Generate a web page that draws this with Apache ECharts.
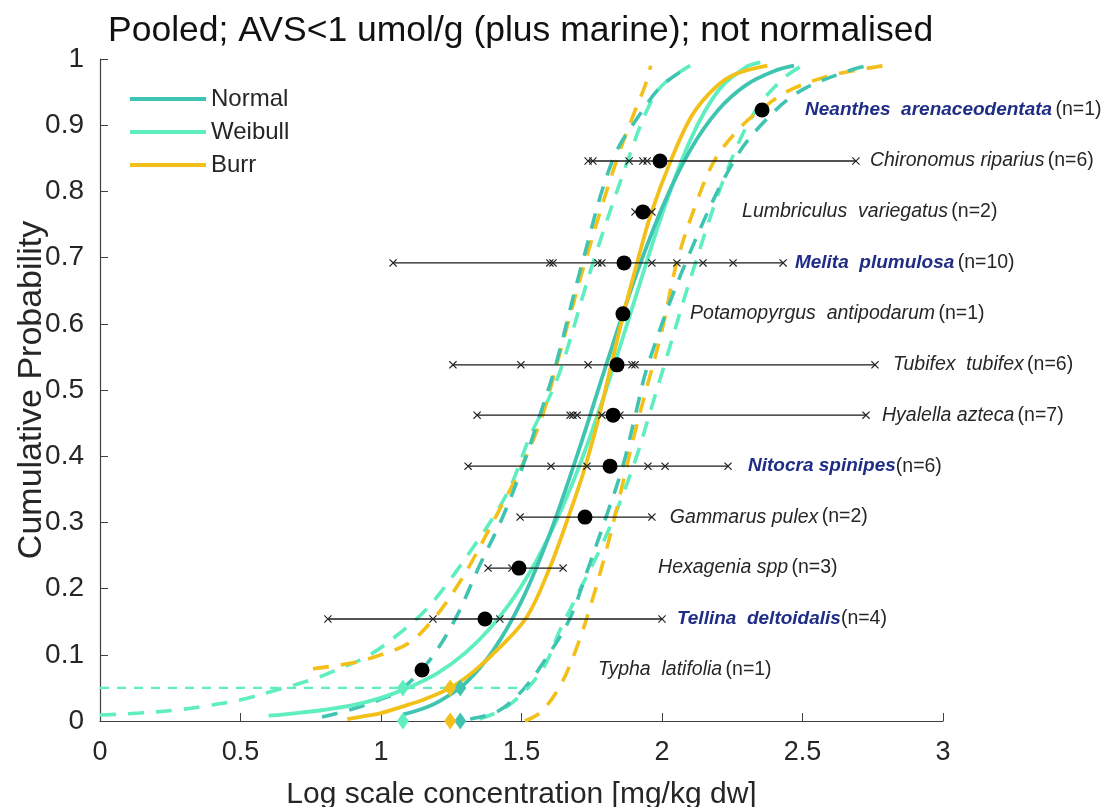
<!DOCTYPE html>
<html>
<head>
<meta charset="utf-8">
<script src="https://cdn.jsdelivr.net/npm/echarts@6/dist/echarts.min.js"></script>
<style>
  html, body { margin: 0; padding: 0; background: #ffffff; }
  #chart { width: 1106px; height: 807px; }
</style>
</head>
<body>
<div id="chart"></div>
<script>
// Species sensitivity data (log10 concentration, mg/kg dw), ordered by rank
const species = [
  'Typha  latifolia', 'Tellina  deltoidalis', 'Hexagenia spp', 'Gammarus pulex',
  'Nitocra spinipes', 'Hyalella azteca', 'Tubifex  tubifex', 'Potamopyrgus  antipodarum',
  'Melita  plumulosa', 'Lumbriculus  variegatus', 'Chironomus riparius', 'Neanthes  arenaceodentata'
];
const marine = [false, true, false, false, true, false, false, false, true, false, false, true];
const countSep = [' ', '', ' ', ' ', '', ' ', ' ', ' ', ' ', ' ', ' ', ' '];
const rankProb = [0.077, 0.154, 0.231, 0.308, 0.385, 0.462, 0.538, 0.615, 0.692, 0.769, 0.846, 0.923];
const speciesMean = [1.146, 1.370, 1.491, 1.726, 1.815, 1.826, 1.840, 1.861, 1.865, 1.932, 1.993, 2.356];
const observations = [
  [1.146],
  [0.811, 1.185, 1.423, 2.000],
  [1.381, 1.466, 1.648],
  [1.495, 1.964],
  [1.310, 1.605, 1.733, 1.950, 2.011, 2.235],
  [1.342, 1.673, 1.683, 1.698, 1.786, 1.850, 2.726],
  [1.256, 1.498, 1.737, 1.893, 1.904, 2.758],
  [1.861],
  [1.043, 1.601, 1.612, 1.772, 1.786, 1.964, 2.053, 2.146, 2.253, 2.431],
  [1.904, 1.964],
  [1.737, 1.754, 1.883, 1.932, 1.947, 2.690],
  [2.356]
];
// where each species name starts (x, log concentration)
const labelX = [1.772, 2.053, 1.986, 2.028, 2.306, 2.783, 2.822, 2.100, 2.473, 2.285, 2.740, 2.509];

// Fitted distributions [x, cumulative probability]
const normalFit = [[1.08,0.010],[1.15,0.019],[1.2,0.028],[1.3,0.057],[1.4,0.107],[1.5,0.181],[1.6,0.282],[1.7,0.404],[1.8,0.536],[1.9,0.664],[2.0,0.775],[2.1,0.862],[2.2,0.923],[2.3,0.961],[2.4,0.982],[2.47,0.990]];
const weibullFit = [[0.6,0.008],[0.7,0.012],[0.8,0.017],[0.9,0.024],[1.0,0.035],[1.1,0.051],[1.2,0.072],[1.3,0.103],[1.4,0.146],[1.5,0.204],[1.6,0.281],[1.7,0.379],[1.8,0.499],[1.9,0.632],[2.0,0.765],[2.1,0.877],[2.2,0.952],[2.3,0.988],[2.35,0.995]];
const burrFit = [[0.88,0.003],[0.95,0.008],[1.0,0.012],[1.07,0.021],[1.15,0.032],[1.246,0.05],[1.33,0.075],[1.42,0.11],[1.52,0.158],[1.60,0.231],[1.66,0.300],[1.72,0.375],[1.77,0.450],[1.815,0.530],[1.86,0.610],[1.91,0.690],[1.96,0.765],[2.03,0.845],[2.107,0.915],[2.19,0.957],[2.26,0.977],[2.375,0.990]];

// Confidence bounds
const normalUpper = [[0.79,0.006],[0.89,0.017],[1.0,0.033],[1.07,0.047],[1.17,0.09],[1.263,0.153],[1.352,0.236],[1.43,0.305],[1.50,0.38],[1.56,0.455],[1.62,0.535],[1.715,0.69],[1.826,0.849],[1.932,0.923],[2.0,0.96],[2.10,0.99]];
const normalLower = [[1.317,0.003],[1.413,0.014],[1.505,0.047],[1.58,0.09],[1.67,0.153],[1.735,0.228],[1.80,0.307],[1.86,0.384],[1.905,0.462],[1.95,0.538],[2.085,0.693],[2.26,0.849],[2.40,0.921],[2.51,0.956],[2.67,0.983],[2.73,0.99]];
const weibullUpper = [[0,0.009],[0.14,0.012],[0.28,0.017],[0.38,0.023],[0.5,0.032],[0.63,0.047],[0.75,0.062],[0.83,0.075],[0.96,0.10],[1.07,0.134],[1.16,0.168],[1.24,0.21],[1.35,0.276],[1.42,0.322],[1.47,0.363],[1.53,0.43],[1.60,0.49],[1.645,0.538],[1.755,0.693],[1.88,0.849],[1.947,0.923],[2.0,0.96],[2.1,0.99]];
const weibullLower = [[1.35,0.003],[1.45,0.022],[1.57,0.075],[1.64,0.14],[1.71,0.20],[1.78,0.26],[1.85,0.33],[1.91,0.40],[1.96,0.47],[2.01,0.54],[2.11,0.68],[2.23,0.83],[2.33,0.92],[2.43,0.97],[2.52,0.995]];
const burrUpper = [[0.758,0.079],[0.9,0.088],[1.0,0.100],[1.1,0.118],[1.185,0.153],[1.25,0.19],[1.317,0.236],[1.41,0.31],[1.5,0.384],[1.575,0.462],[1.625,0.538],[1.726,0.693],[1.84,0.849],[1.905,0.923],[1.94,0.96],[1.96,0.99]];
const burrLower = [[1.512,0.0],[1.57,0.014],[1.64,0.055],[1.70,0.115],[1.75,0.18],[1.80,0.255],[1.85,0.34],[1.90,0.43],[1.95,0.51],[2.00,0.59],[2.053,0.693],[2.12,0.78],[2.19,0.849],[2.28,0.897],[2.356,0.925],[2.45,0.952],[2.6,0.975],[2.79,0.99]];

// HC5 estimates (5th percentile) per fit: Normal, Weibull, Burr
const hc5Level = 0.05;
const hc5Line = [[0, 0.05], [1.53, 0.05]];
const hc5 = { Normal: 1.282, Weibull: 1.078, Burr: 1.246 };

const COLORS = { Normal: '#40c4b2', Weibull: '#5eeebf', Burr: '#f2c018' };
const TEXT = '#262626';
const NAVY = '#1f2d86';
const FONT = '"Liberation Sans", Arial, Helvetica, sans-serif';

function dashed(data, color) {
  return {
    type: 'line', data: data, showSymbol: false, smooth: 0.35,
    silent: true, z: 2,
    lineStyle: { color: color, width: 3.6, type: [16, 12] }
  };
}
function solid(name, data) {
  return {
    name: name, type: 'line', data: data, showSymbol: false, smooth: 0.35,
    silent: true, z: 3, lineStyle: { color: COLORS[name], width: 3.8 }, itemStyle: { color: COLORS[name] }
  };
}

const rangeData = [];
const crossData = [];
observations.forEach(function (obs, i) {
  if (obs.length > 1) rangeData.push([Math.min.apply(null, obs), Math.max.apply(null, obs), rankProb[i]]);
  obs.forEach(function (v) { crossData.push([v, rankProb[i]]); });
});

const labelData = species.map(function (s, i) {
  const key = marine[i] ? 'm' : 's';
  return {
    value: [labelX[i], rankProb[i]],
    label: { formatter: '{' + key + '|' + s + '}' + countSep[i] + '{n|(n=' + observations[i].length + ')}' }
  };
});

const diamondData = [];
['Normal', 'Weibull', 'Burr'].forEach(function (k) {
  diamondData.push({ value: [hc5[k], hc5Level], itemStyle: { color: COLORS[k], opacity: 1 } });
  diamondData.push({ value: [hc5[k], 0], itemStyle: { color: COLORS[k], opacity: 1 } });
});

const chart = echarts.init(document.getElementById('chart'), null, { renderer: 'canvas' });
chart.setOption({
  backgroundColor: '#ffffff',
  animation: false,
  textStyle: { fontFamily: FONT },
  title: {
    text: 'Pooled; AVS<1 umol/g (plus marine); not normalised',
    left: 103, top: 8,
    textStyle: { fontSize: 35.5, fontWeight: 'normal', color: '#111', fontFamily: FONT }
  },
  legend: {
    data: ['Normal', 'Weibull', 'Burr'],
    orient: 'vertical', left: 125, top: 82,
    icon: 'rect', itemWidth: 76, itemHeight: 4, itemGap: 9,
    textStyle: { fontSize: 24, color: TEXT, fontFamily: FONT },
    selectedMode: false
  },
  grid: { left: 100, right: 163, top: 59, bottom: 86, containLabel: false, outerBoundsMode: 'none' },
  xAxis: {
    type: 'value', min: 0, max: 3, interval: 0.5,
    name: 'Log scale concentration [mg/kg dw]', nameLocation: 'middle', nameGap: 59,
    nameTextStyle: { fontSize: 30, color: TEXT, fontFamily: FONT },
    axisLine: { lineStyle: { color: '#404040', width: 1.2 } },
    axisTick: { inside: true, length: 8, lineStyle: { color: '#404040' } },
    axisLabel: { fontSize: 27, color: TEXT, margin: 18, fontFamily: FONT },
    splitLine: { show: false }
  },
  yAxis: {
    type: 'value', min: 0, max: 1, interval: 0.1,
    name: 'Cumulative Probability', nameLocation: 'middle', nameGap: 51,
    nameMoveOverlap: false,
    nameTextStyle: { fontSize: 34, color: TEXT, fontFamily: FONT },
    axisLine: { show: true, lineStyle: { color: '#404040', width: 1.2 } },
    axisTick: { show: true, inside: true, length: 8, lineStyle: { color: '#404040' } },
    axisLabel: { fontSize: 28, color: TEXT, margin: 16, fontFamily: FONT },
    splitLine: { show: false }
  },
  series: [
    dashed(weibullUpper, COLORS.Weibull),
    dashed(weibullLower, COLORS.Weibull),
    dashed(burrUpper, COLORS.Burr),
    dashed(burrLower, COLORS.Burr),
    dashed(normalUpper, COLORS.Normal),
    dashed(normalLower, COLORS.Normal),
    {
      type: 'line', data: hc5Line, showSymbol: false, silent: true, z: 2,
      lineStyle: { color: COLORS.Weibull, width: 2.4, type: [9, 8] }
    },
    solid('Weibull', weibullFit),
    solid('Normal', normalFit),
    solid('Burr', burrFit),
    {
      type: 'custom', data: rangeData, silent: true, z: 5,
      renderItem: function (params, api) {
        const a = api.coord([api.value(0), api.value(2)]);
        const b = api.coord([api.value(1), api.value(2)]);
        return {
          type: 'line',
          shape: { x1: a[0], y1: a[1], x2: b[0], y2: b[1] },
          style: { stroke: '#1a1a1a', lineWidth: 1.4 }
        };
      }
    },
    {
      type: 'scatter', data: crossData, silent: true, z: 6,
      symbol: 'path://M0,1L1,0L5,4L9,0L10,1L6,5L10,9L9,10L5,6L1,10L0,9L4,5Z',
      symbolSize: 8, itemStyle: { color: '#222', opacity: 1 }
    },
    {
      type: 'scatter', data: speciesMean.map(function (v, i) { return [v, rankProb[i]]; }),
      silent: true, z: 7, symbol: 'circle', symbolSize: 15, itemStyle: { color: '#000', opacity: 1 }
    },
    {
      type: 'scatter', data: diamondData, silent: true, z: 8, clip: false,
      symbol: 'diamond', symbolSize: [12, 17]
    },
    {
      type: 'scatter', data: labelData, silent: true, z: 9, symbolSize: 0,
      itemStyle: { opacity: 1 },
      label: {
        show: true, position: 'right', distance: 0,
        rich: {
          s: { fontSize: 19.5, fontStyle: 'italic', color: TEXT, fontFamily: FONT },
          m: { fontSize: 19, fontStyle: 'italic', fontWeight: 'bold', color: NAVY, fontFamily: FONT },
          n: { fontSize: 19.5, color: TEXT, fontFamily: FONT }
        }
      }
    }
  ]
});
</script>
</body>
</html>
